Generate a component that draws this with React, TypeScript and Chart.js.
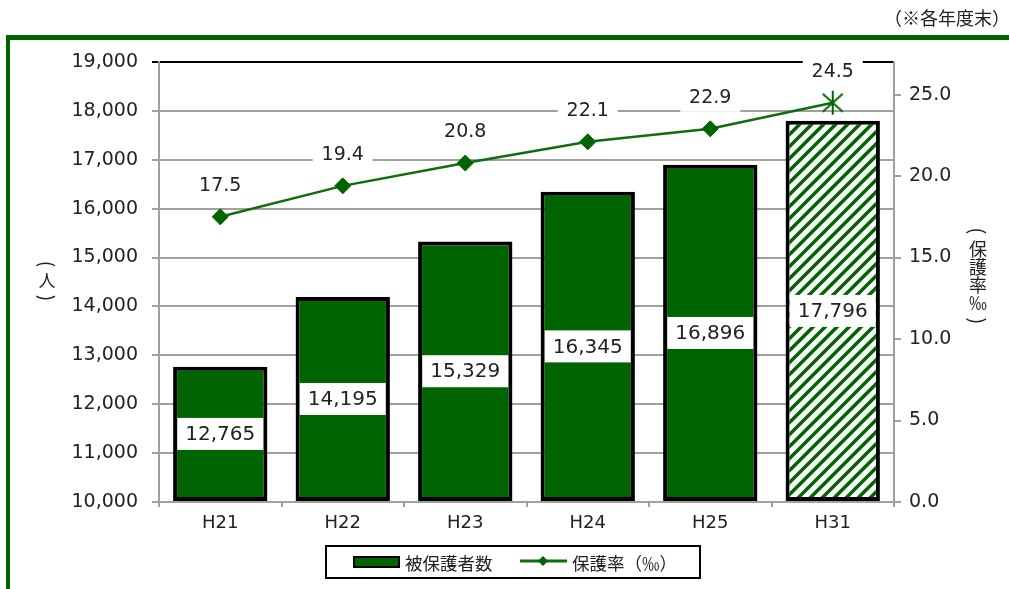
import React, { useEffect, useRef } from 'react';
import { Chart, registerables } from 'chart.js';

Chart.register(...registerables);

const categories = ['H21', 'H22', 'H23', 'H24', 'H25', 'H31'];
const recipients = [12765, 14195, 15329, 16345, 16896, 17796];
const rates = [17.5, 19.4, 20.8, 22.1, 22.9, 24.5];
const rightTicks = [0, 5, 10, 15, 20, 25];
const barLegend = '被保護者数';
const lineLegend = '保護率（‰）';
const noteText = '（※各年度末）';
const leftTitle = ['(', '人', ')'];
const rightTitle = ['(', '保', '護', '率', '‰', ')'];

const W = 1009;
const H = 589;
const GREEN = '#006400';
const LINE_GREEN = '#0d6e0d';
const TEXT = '#222';
const GRID = '#a0a0a0';
const NUM_FONT = '"DejaVu Sans", sans-serif';
const JP_FONT = '"Noto Sans CJK JP", sans-serif';

function makeHatch(): CanvasPattern | string {
  const c = document.createElement('canvas');
  const s = 12;
  c.width = s;
  c.height = s;
  const g = c.getContext('2d');
  if (!g) return GREEN;
  g.fillStyle = '#fff';
  g.fillRect(0, 0, s, s);
  g.strokeStyle = GREEN;
  g.lineWidth = 3.5;
  g.beginPath();
  g.moveTo(-s / 2, s / 2); g.lineTo(s / 2, -s / 2);
  g.moveTo(0, s); g.lineTo(s, 0);
  g.moveTo(s / 2, s * 1.5); g.lineTo(s * 1.5, s / 2);
  g.stroke();
  const p = g.createPattern(c, 'repeat');
  return p || GREEN;
}

function makeStar(): HTMLCanvasElement {
  const c = document.createElement('canvas');
  c.width = 26;
  c.height = 26;
  const g = c.getContext('2d');
  if (g) {
    g.strokeStyle = GREEN;
    g.lineWidth = 2;
    g.beginPath();
    g.moveTo(13, 1); g.lineTo(13, 25);
    g.moveTo(3, 4); g.lineTo(23, 22);
    g.moveTo(23, 4); g.lineTo(3, 22);
    g.stroke();
  }
  return c;
}

function drawVertical(ctx: CanvasRenderingContext2D, chars: string[], x: number, y0: number, step: number, size: number) {
  chars.forEach((ch, i) => {
    const y = y0 + i * step;
    if (ch === '(' || ch === ')') {
      ctx.save();
      ctx.translate(x, y);
      ctx.rotate(Math.PI / 2);
      ctx.font = `${size + 2}px ${JP_FONT}`;
      ctx.fillText(ch, 0, 0);
      ctx.restore();
    } else {
      ctx.font = `${size}px ${JP_FONT}`;
      ctx.fillText(ch, x, y);
    }
  });
}

const decor = {
  id: 'decor',
  beforeDraw(chart: any) {
    const ctx = chart.ctx as CanvasRenderingContext2D;
    ctx.save();
    ctx.fillStyle = '#fff';
    ctx.fillRect(0, 0, W, H);
    // green frame
    ctx.fillStyle = GREEN;
    ctx.fillRect(6, 35, W - 6, 5);
    ctx.fillRect(6, 35, 4, H - 35);
    // note
    ctx.fillStyle = TEXT;
    ctx.font = `18px ${JP_FONT}`;
    ctx.textAlign = 'right';
    ctx.textBaseline = 'middle';
    ctx.fillText(noteText, 1010, 18);
    // vertical axis titles
    ctx.textAlign = 'center';
    drawVertical(ctx, leftTitle, 47, 264, 17, 17);
    drawVertical(ctx, rightTitle, 978, 231, 18, 18);
    // legend
    ctx.strokeStyle = '#000';
    ctx.lineWidth = 2;
    ctx.strokeRect(326, 546, 374, 32);
    ctx.fillStyle = GREEN;
    ctx.fillRect(354, 557, 45, 10);
    ctx.strokeRect(354, 557, 45, 10);
    ctx.fillStyle = TEXT;
    ctx.font = `17.5px ${JP_FONT}`;
    ctx.textAlign = 'left';
    ctx.fillText(barLegend, 405, 563);
    ctx.strokeStyle = LINE_GREEN;
    ctx.lineWidth = 3;
    ctx.beginPath();
    ctx.moveTo(520, 561);
    ctx.lineTo(567, 561);
    ctx.stroke();
    ctx.fillStyle = GREEN;
    ctx.beginPath();
    ctx.moveTo(543, 556); ctx.lineTo(548, 561); ctx.lineTo(543, 566); ctx.lineTo(538, 561);
    ctx.closePath();
    ctx.fill();
    ctx.fillStyle = TEXT;
    ctx.fillText(lineLegend, 572, 563);
    ctx.restore();
  },
  afterDatasetsDraw(chart: any) {
    const ctx = chart.ctx as CanvasRenderingContext2D;
    const bottom = chart.chartArea.bottom;
    ctx.save();
    ctx.textAlign = 'center';
    ctx.textBaseline = 'middle';
    const barMeta = chart.getDatasetMeta(0);
    ctx.font = `20px ${NUM_FONT}`;
    barMeta.data.forEach((el: any, i: number) => {
      const base = Math.min(el.base, bottom);
      const mid = (el.y + base) / 2;
      ctx.fillStyle = '#fff';
      ctx.fillRect(el.x - 43, mid - 16, 86, 32);
      ctx.fillStyle = TEXT;
      ctx.fillText(recipients[i].toLocaleString('en-US'), el.x, mid + 1);
    });
    const lineMeta = chart.getDatasetMeta(1);
    ctx.font = `19px ${NUM_FONT}`;
    lineMeta.data.forEach((el: any, i: number) => {
      const cy = el.y - 31;
      ctx.fillStyle = '#fff';
      ctx.fillRect(el.x - 30, cy - 14, 60, 28);
      ctx.fillStyle = TEXT;
      ctx.fillText(rates[i].toFixed(1), el.x, cy);
    });
    ctx.restore();
  },
};

export default function App() {
  const ref = useRef<HTMLCanvasElement | null>(null);
  useEffect(() => {
    if (!ref.current) return;
    const hatch = makeHatch();
    const star = makeStar();
    const chart = new Chart(ref.current, {
      type: 'bar',
      data: {
        labels: categories,
        datasets: [
          {
            type: 'bar',
            label: barLegend,
            data: recipients,
            yAxisID: 'y',
            base: 10000,
            backgroundColor: recipients.map((_, i) => (i === recipients.length - 1 ? hatch : GREEN)) as any,
            borderColor: '#000',
            borderWidth: 4,
            borderSkipped: false,
            barPercentage: 0.77,
            categoryPercentage: 1,
            order: 2,
          },
          {
            type: 'line',
            label: lineLegend,
            data: rates,
            yAxisID: 'y1',
            borderColor: LINE_GREEN,
            borderWidth: 2.5,
            pointStyle: rates.map((_, i) => (i === rates.length - 1 ? star : 'rectRot')) as any,
            pointRadius: 8,
            pointBackgroundColor: GREEN,
            pointBorderColor: GREEN,
            pointBorderWidth: 1,
            tension: 0,
            order: 1,
          },
        ],
      },
      options: {
        responsive: false,
        devicePixelRatio: 1,
        animation: false,
        layout: { padding: { left: 0, right: 0, top: 62, bottom: 47 } },
        plugins: { legend: { display: false }, tooltip: { enabled: false } },
        scales: {
          x: {
            type: 'category',
            offset: true,
            grid: { offset: true, drawOnChartArea: false, drawTicks: true, tickLength: 5, color: GRID, lineWidth: 2 },
            border: { color: GRID, width: 2 },
            ticks: { color: TEXT, font: { family: NUM_FONT, size: 18 }, padding: 6 },
            afterFit: (s: any) => { s.height = 40; },
          },
          y: {
            position: 'left',
            min: 10000,
            max: 19000,
            ticks: {
              stepSize: 1000,
              color: TEXT,
              font: { family: NUM_FONT, size: 19 },
              padding: 14,
              callback: (v: any) => Number(v).toLocaleString('en-US'),
            },
            grid: {
              color: (c: any) => (c.tick && c.tick.value === 19000 ? '#000' : GRID),
              lineWidth: 2,
              tickLength: 7,
            },
            border: { color: GRID, width: 2 },
            afterFit: (s: any) => { s.width = 159; },
          },
          y1: {
            position: 'right',
            min: 0,
            max: 27,
            afterBuildTicks: (s: any) => { s.ticks = rightTicks.map((v) => ({ value: v })); },
            ticks: {
              color: TEXT,
              font: { family: NUM_FONT, size: 19 },
              padding: 8,
              callback: (v: any) => Number(v).toFixed(1),
            },
            grid: { drawOnChartArea: false, drawTicks: true, tickLength: 7, color: GRID, lineWidth: 2 },
            border: { color: GRID, width: 2 },
            afterFit: (s: any) => { s.width = W - 894; },
          },
        },
      },
      plugins: [decor],
    });
    return () => chart.destroy();
  }, []);
  return (
    <div style={{ position: 'fixed', left: 0, top: 0, width: W, height: H, background: '#fff' }}>
      <canvas ref={ref} width={W} height={H} style={{ display: 'block' }} />
    </div>
  );
}
